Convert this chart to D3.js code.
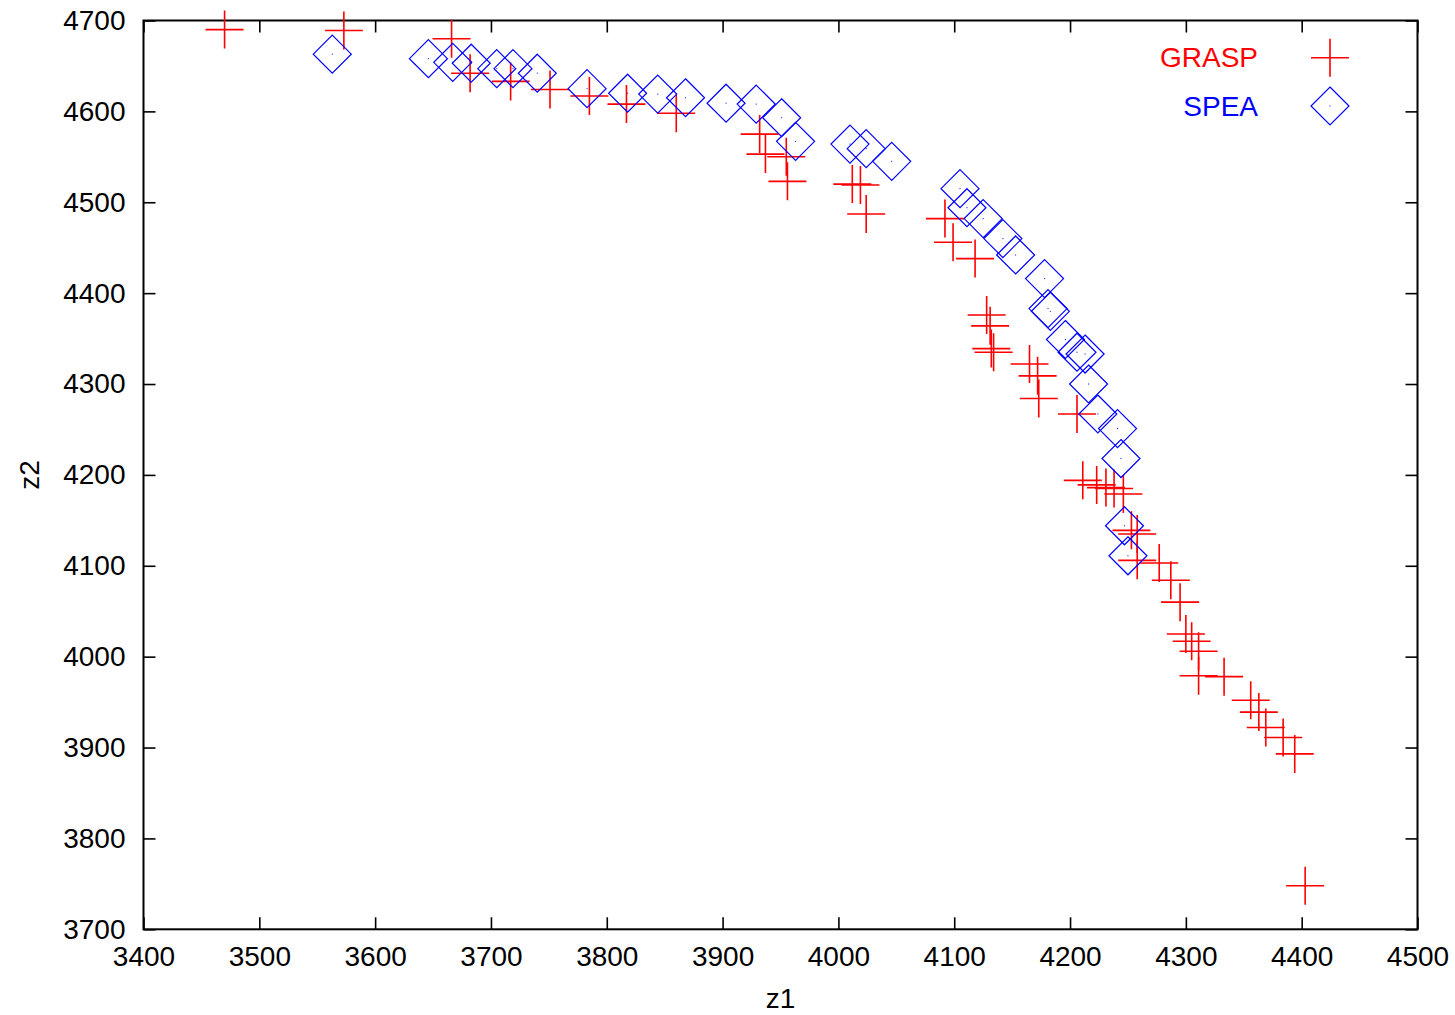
<!DOCTYPE html>
<html>
  <head>
    <meta charset="utf-8">
    <title>GRASP vs SPEA</title>
    <script src="https://d3js.org/d3.v7.min.js"></script>
    <style>
      body { margin: 0; background: #fff; }
      svg { font-family: "Liberation Sans", Arial, sans-serif; }
      .axis text { font-size: 28px; fill: #000; }
      .axis path { display: none; }
      .axis line { stroke: #000; stroke-width: 1.6; }
      .title { font-size: 28px; }
    </style>
  </head>
  <body>
    <svg id="chart" width="1455" height="1015"></svg>
    <script>
      // tick labels
      let xTicks = [3400, 3500, 3600, 3700, 3800, 3900, 4000, 4100, 4200, 4300, 4400, 4500];
      let yTicks = [3700, 3800, 3900, 4000, 4100, 4200, 4300, 4400, 4500, 4600, 4700];
      // series, [z1, z2]
      let graspPoints = [
        [3470, 4690], [3573, 4689], [3666, 4680], [3682, 4642], [3717, 4633],
        [3751, 4624], [3785, 4617], [3817, 4608], [3860, 4598], [3932, 4575],
        [3937, 4553], [3955, 4550], [3956, 4523], [4012, 4520], [4019, 4519],
        [4024, 4487], [4092, 4482], [4099, 4456], [4118, 4438], [4128, 4376],
        [4131, 4364], [4132, 4339], [4134, 4335], [4165, 4322], [4172, 4309],
        [4173, 4284], [4206, 4267], [4211, 4194], [4223, 4189], [4231, 4186],
        [4238, 4185], [4246, 4179], [4253, 4139], [4258, 4135], [4258, 4106],
        [4277, 4103], [4287, 4084], [4295, 4060], [4300, 4025], [4305, 4017],
        [4311, 4006], [4311, 3979], [4333, 3978], [4356, 3952], [4363, 3939],
        [4369, 3922], [4384, 3911], [4394, 3893], [4403, 3748]
      ];
      let speaPoints = [
        [3563, 4663], [3646, 4658], [3667, 4654], [3683, 4653], [3705, 4647],
        [3719, 4647], [3740, 4642], [3783, 4625], [3818, 4620], [3844, 4619],
        [3868, 4615], [3903, 4609], [3929, 4608], [3951, 4593], [3963, 4567],
        [4010, 4564], [4024, 4559], [4046, 4545], [4105, 4515], [4111, 4494],
        [4125, 4482], [4142, 4460], [4153, 4442], [4178, 4416], [4181, 4383],
        [4183, 4380], [4196, 4349], [4206, 4335], [4213, 4333], [4216, 4300],
        [4224, 4267], [4241, 4251], [4244, 4218], [4247, 4144], [4250, 4111]
      ];

      let margin = { top: 20.5, right: 37.5, bottom: 85.7, left: 143.5 };
      let width = 1455, height = 1015;
      let chart = d3.select("#chart");

      let x = d3.scaleLinear()
        .domain([3400, 4500])
        .range([margin.left, width - margin.right]);
      let y = d3.scaleLinear()
        .domain([3700, 4700])
        .range([height - margin.bottom, margin.top]);

      let tick = 12;
      let fmt = d3.format("d");
      // bottom + left with labels, top + right mirrored ticks
      chart.append("g").classed("axis", true)
        .attr("transform", "translate(0," + y.range()[0] + ")")
        .call(d3.axisBottom(x).tickValues(xTicks).tickFormat(fmt).tickSizeInner(-tick).tickSizeOuter(0).tickPadding(17));
      chart.append("g").classed("axis", true)
        .attr("transform", "translate(" + x.range()[0] + ",0)")
        .call(d3.axisLeft(y).tickValues(yTicks).tickFormat(fmt).tickSizeInner(-tick).tickSizeOuter(0).tickPadding(18));
      chart.append("g").classed("axis", true)
        .attr("transform", "translate(0," + y.range()[1] + ")")
        .call(d3.axisTop(x).tickValues(xTicks).tickSizeInner(-tick).tickSizeOuter(0).tickFormat(""));
      chart.append("g").classed("axis", true)
        .attr("transform", "translate(" + x.range()[1] + ",0)")
        .call(d3.axisRight(y).tickValues(yTicks).tickSizeInner(-tick).tickSizeOuter(0).tickFormat(""));

      chart.append("rect")
        .attr("x", x.range()[0])
        .attr("y", y.range()[1])
        .attr("width", x.range()[1] - x.range()[0])
        .attr("height", y.range()[0] - y.range()[1])
        .attr("fill", "none")
        .attr("stroke", "#000")
        .attr("stroke-width", 2);

      // marker shapes
      let r = 19;
      let plusPath = "M" + -r + ",0H" + r + "M0," + -r + "V" + r;
      let diamondPath = "M0," + -r + "L" + r + ",0L0," + r + "L" + -r + ",0Z";

      function drawPlus(g) {
        g.append("path").attr("d", plusPath)
          .attr("fill", "none").attr("stroke", "#ff0000").attr("stroke-width", 1.6);
      }
      function drawDiamond(g) {
        g.append("path").attr("d", diamondPath)
          .attr("fill", "none").attr("stroke", "#0000ff").attr("stroke-width", 1.2);
        g.append("rect").attr("x", -0.5).attr("y", -0.5).attr("width", 1).attr("height", 1)
          .attr("fill", "#0000ff");
      }

      let plotArea = chart.append("g");
      plotArea.selectAll(".grasp")
          .data(graspPoints)
        .enter().append("g")
          .classed("grasp", true)
          .attr("transform", function(d) { return "translate(" + x(d[0]) + "," + y(d[1]) + ")"; })
          .each(function() { drawPlus(d3.select(this)); });
      plotArea.selectAll(".spea")
          .data(speaPoints)
        .enter().append("g")
          .classed("spea", true)
          .attr("transform", function(d) { return "translate(" + x(d[0]) + "," + y(d[1]) + ")"; })
          .each(function() { drawDiamond(d3.select(this)); });

      // axis titles
      chart.append("text").classed("title", true)
        .attr("x", (x.range()[0] + x.range()[1]) / 2)
        .attr("y", 1008)
        .attr("text-anchor", "middle")
        .text("z1");
      chart.append("text").classed("title", true)
        .attr("transform", "translate(39," + (y.range()[0] + y.range()[1]) / 2 + ") rotate(-90)")
        .attr("text-anchor", "middle")
        .text("z2");

      // legend
      let legend = [
        { name: "GRASP", color: "#ff0000", draw: drawPlus, y: 57.7 },
        { name: "SPEA", color: "#0000ff", draw: drawDiamond, y: 106 }
      ];
      legend.forEach(function(l) {
        chart.append("text").classed("title", true)
          .attr("x", 1258)
          .attr("y", l.y + 9.5)
          .attr("text-anchor", "end")
          .attr("fill", l.color)
          .text(l.name);
        let g = chart.append("g").attr("transform", "translate(1330," + l.y + ")");
        l.draw(g);
      });
    </script>
  </body>
</html>
